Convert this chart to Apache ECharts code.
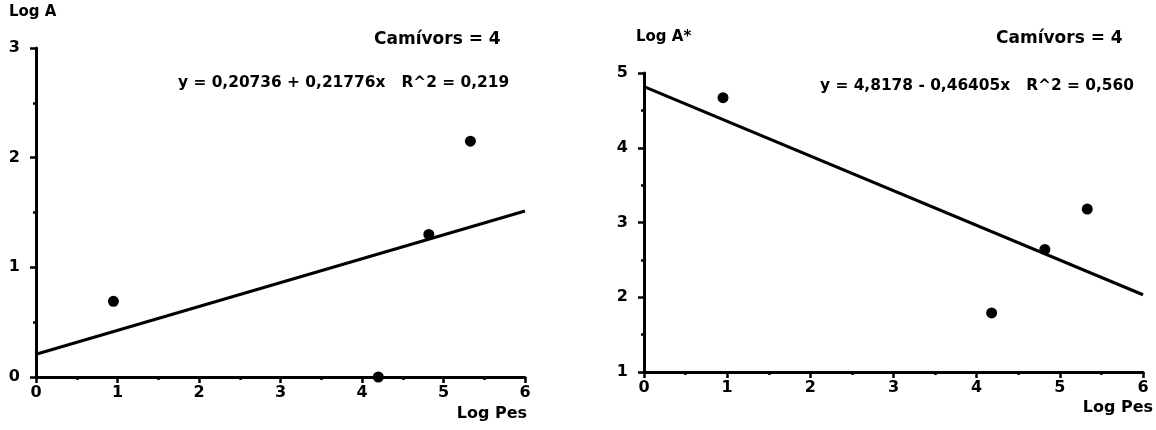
<!DOCTYPE html>
<html><head><meta charset="utf-8">
<script src="https://cdn.jsdelivr.net/npm/echarts@6/dist/echarts.min.js"></script>
<style>html,body{margin:0;padding:0;background:#fff}#c{width:1156px;height:430px}</style>
</head><body><div id="c"></div>
<script>
// Data
const leftPoints = [[0.95, 0.69], [4.2, 0.0], [4.82, 1.30], [5.33, 2.15]];
const rightPoints = [[0.95, 4.67], [4.18, 1.79], [4.82, 2.64], [5.33, 3.18]];
const leftFit = { a: 0.20736, b: 0.21776 };
const rightFit = { a: 4.8178, b: -0.46405 };
const xTicks = [0, 1, 2, 3, 4, 5, 6];
const leftYTicks = [0, 1, 2, 3];
const rightYTicks = [1, 2, 3, 4, 5];

const fitLine = (f) => [[0, f.a], [6, f.a + f.b * 6]];

const FONT = 'DejaVu Sans, Liberation Sans, sans-serif';
const axisCommon = {
  axisLine: { show: true, onZero: false, lineStyle: { color: '#000', width: 3 } },
  axisTick: { show: true, length: 6, lineStyle: { color: '#000', width: 2.5 } },
  minorTick: { show: true, splitNumber: 2, length: 3, lineStyle: { color: '#000', width: 2.5 } },
  splitLine: { show: false },
  axisLabel: { color: '#000', fontFamily: FONT, fontWeight: 'bold', fontSize: 16 }
};

const chart = echarts.init(document.getElementById('c'), null, { renderer: 'canvas' });
chart.setOption({
  animation: false,
  backgroundColor: '#fff',
  grid: [
    { left: 36, right: 631, top: 48, bottom: 53 },
    { left: 644, right: 13, top: 73, bottom: 58 }
  ],
  xAxis: [
    Object.assign({}, axisCommon, { gridIndex: 0, type: 'value', min: xTicks[0], max: xTicks[xTicks.length - 1], interval: 1,
      axisLabel: Object.assign({}, axisCommon.axisLabel, { margin: 8 }) }),
    Object.assign({}, axisCommon, { gridIndex: 1, type: 'value', min: xTicks[0], max: xTicks[xTicks.length - 1], interval: 1,
      axisLabel: Object.assign({}, axisCommon.axisLabel, { margin: 8 }) })
  ],
  yAxis: [
    Object.assign({}, axisCommon, { gridIndex: 0, type: 'value', min: leftYTicks[0], max: leftYTicks[leftYTicks.length - 1], interval: 1,
      axisLabel: Object.assign({}, axisCommon.axisLabel, { margin: 16 }) }),
    Object.assign({}, axisCommon, { gridIndex: 1, type: 'value', min: rightYTicks[0], max: rightYTicks[rightYTicks.length - 1], interval: 1,
      axisLabel: Object.assign({}, axisCommon.axisLabel, { margin: 16 }) })
  ],
  series: [
    { type: 'line', xAxisIndex: 0, yAxisIndex: 0, data: fitLine(leftFit), symbol: 'none',
      lineStyle: { color: '#000', width: 3 } },
    { type: 'scatter', xAxisIndex: 0, yAxisIndex: 0, data: leftPoints, symbolSize: 11,
      itemStyle: { color: '#000', opacity: 1 } },
    { type: 'line', xAxisIndex: 1, yAxisIndex: 1, data: fitLine(rightFit), symbol: 'none',
      lineStyle: { color: '#000', width: 3 } },
    { type: 'scatter', xAxisIndex: 1, yAxisIndex: 1, data: rightPoints, symbolSize: 11,
      itemStyle: { color: '#000', opacity: 1 } }
  ],
  graphic: [
    { type: 'text', left: 9, top: 5, style: { text: 'Log A', font: 'bold 15px ' + FONT, fill: '#000' } },
    { type: 'text', left: 374, top: 31, style: { text: 'Camívors = 4', font: 'bold 17px ' + FONT, fill: '#000' } },
    { type: 'text', left: 178, top: 75, style: { text: 'y = 0,20736 + 0,21776x   R^2 = 0,219', font: 'bold 15.4px ' + FONT, fill: '#000' } },
    { type: 'text', right: 629, top: 406, style: { text: 'Log Pes', font: 'bold 16px ' + FONT, fill: '#000' } },
    { type: 'text', left: 636, top: 30, style: { text: 'Log A*', font: 'bold 15px ' + FONT, fill: '#000' } },
    { type: 'text', left: 996, top: 30, style: { text: 'Camívors = 4', font: 'bold 17px ' + FONT, fill: '#000' } },
    { type: 'text', left: 820, top: 78, style: { text: 'y = 4,8178 - 0,46405x   R^2 = 0,560', font: 'bold 15.4px ' + FONT, fill: '#000' } },
    { type: 'text', right: 3, top: 400, style: { text: 'Log Pes', font: 'bold 16px ' + FONT, fill: '#000' } }
  ]
});
</script></body></html>
